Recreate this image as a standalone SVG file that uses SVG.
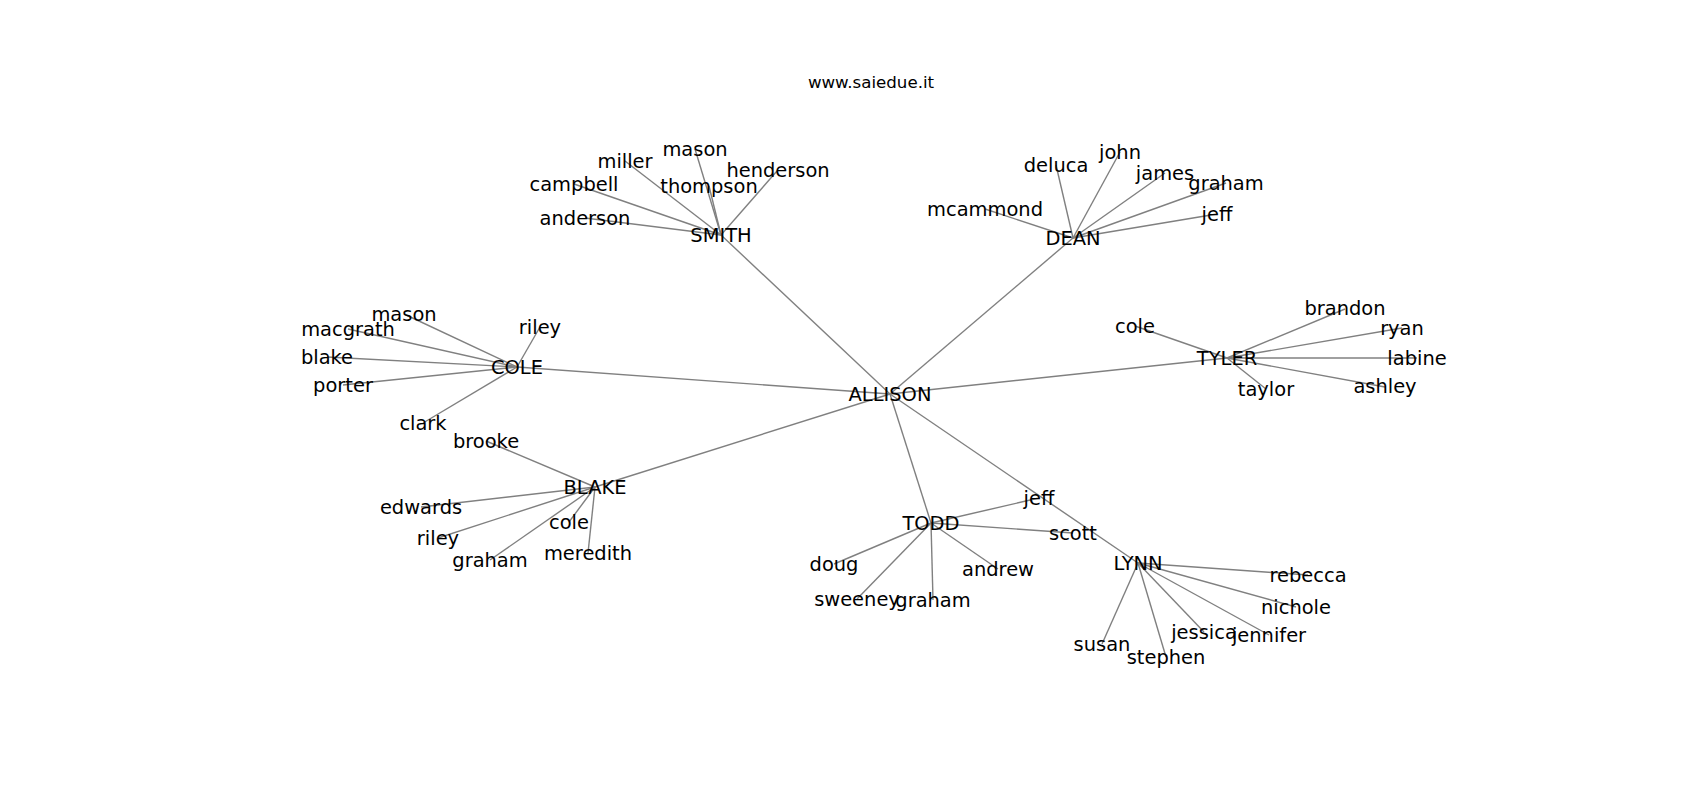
<svg xmlns="http://www.w3.org/2000/svg" width="1700" height="800" viewBox="0 0 1700 800">
<style>
  .e { stroke: #808080; stroke-width: 1.4; fill: none; }
  .t { font-family: "DejaVu Sans", sans-serif; font-size: 19.44px; fill: #000; text-anchor: middle; }
  .title { font-family: "DejaVu Sans", sans-serif; font-size: 16.67px; fill: #000; text-anchor: middle; }
</style>
<rect width="1700" height="800" fill="#fff"/>
<text class="title" x="871" y="88">www.saiedue.it</text>
<g id="connectors">
  <line class="e" x1="890" y1="394" x2="721" y2="235"/>
  <line class="e" x1="890" y1="394" x2="1073" y2="238"/>
  <line class="e" x1="890" y1="394" x2="517" y2="367"/>
  <line class="e" x1="890" y1="394" x2="1227" y2="358"/>
  <line class="e" x1="890" y1="394" x2="595" y2="487"/>
  <line class="e" x1="890" y1="394" x2="931" y2="523"/>
  <line class="e" x1="890" y1="394" x2="1138" y2="563"/>
  <line class="e" x1="721" y1="235" x2="585" y2="218"/>
  <line class="e" x1="721" y1="235" x2="574" y2="184"/>
  <line class="e" x1="721" y1="235" x2="625" y2="161"/>
  <line class="e" x1="721" y1="235" x2="695" y2="149"/>
  <line class="e" x1="721" y1="235" x2="709" y2="186"/>
  <line class="e" x1="721" y1="235" x2="777" y2="171"/>
  <line class="e" x1="1073" y1="238" x2="985" y2="209"/>
  <line class="e" x1="1073" y1="238" x2="1056" y2="165"/>
  <line class="e" x1="1073" y1="238" x2="1120" y2="152"/>
  <line class="e" x1="1073" y1="238" x2="1165" y2="173"/>
  <line class="e" x1="1073" y1="238" x2="1226" y2="183"/>
  <line class="e" x1="1073" y1="238" x2="1217" y2="214"/>
  <line class="e" x1="517" y1="367" x2="404" y2="314"/>
  <line class="e" x1="517" y1="367" x2="348" y2="329"/>
  <line class="e" x1="517" y1="367" x2="327" y2="357"/>
  <line class="e" x1="517" y1="367" x2="343" y2="385"/>
  <line class="e" x1="517" y1="367" x2="423" y2="423"/>
  <line class="e" x1="517" y1="367" x2="540" y2="327"/>
  <line class="e" x1="1227" y1="358" x2="1135" y2="326"/>
  <line class="e" x1="1227" y1="358" x2="1345" y2="309"/>
  <line class="e" x1="1227" y1="358" x2="1402" y2="328"/>
  <line class="e" x1="1227" y1="358" x2="1417" y2="358"/>
  <line class="e" x1="1227" y1="358" x2="1385" y2="387"/>
  <line class="e" x1="1227" y1="358" x2="1266" y2="389"/>
  <line class="e" x1="595" y1="487" x2="486" y2="441"/>
  <line class="e" x1="595" y1="487" x2="421" y2="507"/>
  <line class="e" x1="595" y1="487" x2="438" y2="538"/>
  <line class="e" x1="595" y1="487" x2="490" y2="560"/>
  <line class="e" x1="595" y1="487" x2="569" y2="522"/>
  <line class="e" x1="595" y1="487" x2="588" y2="553"/>
  <line class="e" x1="931" y1="523" x2="1039" y2="498"/>
  <line class="e" x1="931" y1="523" x2="1073" y2="533"/>
  <line class="e" x1="931" y1="523" x2="834" y2="564"/>
  <line class="e" x1="931" y1="523" x2="857" y2="599"/>
  <line class="e" x1="931" y1="523" x2="933" y2="600"/>
  <line class="e" x1="931" y1="523" x2="998" y2="569"/>
  <line class="e" x1="1138" y1="563" x2="1308" y2="575"/>
  <line class="e" x1="1138" y1="563" x2="1296" y2="607"/>
  <line class="e" x1="1138" y1="563" x2="1269" y2="635"/>
  <line class="e" x1="1138" y1="563" x2="1204" y2="632"/>
  <line class="e" x1="1138" y1="563" x2="1166" y2="657"/>
  <line class="e" x1="1138" y1="563" x2="1102" y2="644"/>
</g>
<g id="n-allison"><text class="t" x="890" y="401">ALLISON</text></g>
<g id="n-smith"><text class="t" x="721" y="242">SMITH</text></g>
<g id="n-smith-anderson"><text class="t" x="585" y="225">anderson</text></g>
<g id="n-smith-campbell"><text class="t" x="574" y="191">campbell</text></g>
<g id="n-smith-miller"><text class="t" x="625" y="168">miller</text></g>
<g id="n-smith-mason"><text class="t" x="695" y="156">mason</text></g>
<g id="n-smith-thompson"><text class="t" x="709" y="193">thompson</text></g>
<g id="n-smith-henderson"><text class="t" x="778" y="177">henderson</text></g>
<g id="n-dean"><text class="t" x="1073" y="245">DEAN</text></g>
<g id="n-dean-mcammond"><text class="t" x="985" y="216">mcammond</text></g>
<g id="n-dean-deluca"><text class="t" x="1056" y="172">deluca</text></g>
<g id="n-dean-john"><text class="t" x="1120" y="159">john</text></g>
<g id="n-dean-james"><text class="t" x="1165" y="180">james</text></g>
<g id="n-dean-graham"><text class="t" x="1226" y="190">graham</text></g>
<g id="n-dean-jeff"><text class="t" x="1217" y="221">jeff</text></g>
<g id="n-cole"><text class="t" x="517" y="374">COLE</text></g>
<g id="n-cole-mason"><text class="t" x="404" y="321">mason</text></g>
<g id="n-cole-macgrath"><text class="t" x="348" y="336">macgrath</text></g>
<g id="n-cole-blake"><text class="t" x="327" y="364">blake</text></g>
<g id="n-cole-porter"><text class="t" x="343" y="392">porter</text></g>
<g id="n-cole-clark"><text class="t" x="423" y="430">clark</text></g>
<g id="n-cole-riley"><text class="t" x="540" y="334">riley</text></g>
<g id="n-tyler"><text class="t" x="1227" y="365">TYLER</text></g>
<g id="n-tyler-cole"><text class="t" x="1135" y="333">cole</text></g>
<g id="n-tyler-brandon"><text class="t" x="1345" y="315">brandon</text></g>
<g id="n-tyler-ryan"><text class="t" x="1402" y="335">ryan</text></g>
<g id="n-tyler-labine"><text class="t" x="1417" y="365">labine</text></g>
<g id="n-tyler-ashley"><text class="t" x="1385" y="393">ashley</text></g>
<g id="n-tyler-taylor"><text class="t" x="1266" y="396">taylor</text></g>
<g id="n-blake"><text class="t" x="595" y="494">BLAKE</text></g>
<g id="n-blake-brooke"><text class="t" x="486" y="448">brooke</text></g>
<g id="n-blake-edwards"><text class="t" x="421" y="514">edwards</text></g>
<g id="n-blake-riley"><text class="t" x="438" y="545">riley</text></g>
<g id="n-blake-graham"><text class="t" x="490" y="567">graham</text></g>
<g id="n-blake-cole"><text class="t" x="569" y="529">cole</text></g>
<g id="n-blake-meredith"><text class="t" x="588" y="560">meredith</text></g>
<g id="n-todd"><text class="t" x="931" y="530">TODD</text></g>
<g id="n-todd-jeff"><text class="t" x="1039" y="505">jeff</text></g>
<g id="n-todd-scott"><text class="t" x="1073" y="540">scott</text></g>
<g id="n-todd-doug"><text class="t" x="834" y="571">doug</text></g>
<g id="n-todd-sweeney"><text class="t" x="857" y="606">sweeney</text></g>
<g id="n-todd-graham"><text class="t" x="933" y="607">graham</text></g>
<g id="n-todd-andrew"><text class="t" x="998" y="576">andrew</text></g>
<g id="n-lynn"><text class="t" x="1138" y="570">LYNN</text></g>
<g id="n-lynn-rebecca"><text class="t" x="1308" y="582">rebecca</text></g>
<g id="n-lynn-nichole"><text class="t" x="1296" y="614">nichole</text></g>
<g id="n-lynn-jennifer"><text class="t" x="1269" y="642">jennifer</text></g>
<g id="n-lynn-jessica"><text class="t" x="1204" y="639">jessica</text></g>
<g id="n-lynn-stephen"><text class="t" x="1166" y="664">stephen</text></g>
<g id="n-lynn-susan"><text class="t" x="1102" y="651">susan</text></g>
</svg>
